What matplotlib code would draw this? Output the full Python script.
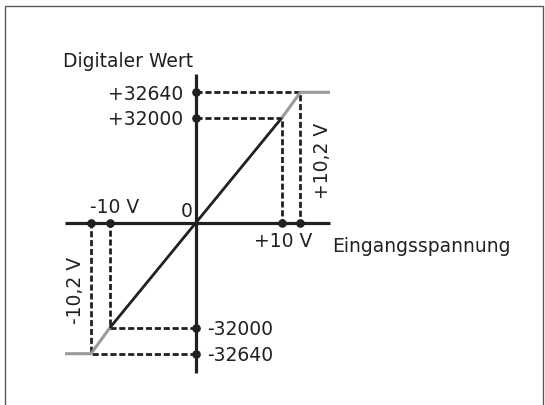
import numpy as np
import matplotlib
matplotlib.use("Agg")
import matplotlib.pyplot as plt
from matplotlib.patches import Rectangle

# Converter characteristic: input voltage (V) -> digital value
volts_nominal = [-10, 10]
volts_limit = [-10.2, 10.2]
digital_nominal = [-32000, 32000]
digital_limit = [-32640, 32640]

x_title = "Eingangsspannung"
y_title = "Digitaler Wert"
x_tick_labels = ["-10 V", "+10 V"]
y_tick_labels = ["-32000", "+32000"]
y_limit_labels = ["-32640", "+32640"]
x_limit_labels = ["-10,2 V", "+10,2 V"]

INK = "#231f20"
GREY = "#9a9a9a"

# Schematic scales: the overrange zone beyond the nominal range is stretched
KX, KY = 10.9, 12.24


def stretch(limit, k):
    def fwd(v):
        v = np.asarray(v, dtype=float)
        a = np.abs(v)
        return np.sign(v) * np.where(a <= limit, a, limit + (a - limit) * k)

    def inv(m):
        m = np.asarray(m, dtype=float)
        a = np.abs(m)
        return np.sign(m) * np.where(a <= limit, a, limit + (a - limit) / k)

    return fwd, inv


fx, ix = stretch(volts_nominal[1], KX)
fy, iy = stretch(digital_nominal[1], KY)

plt.rcParams["font.family"] = ["DejaVu Sans"]
plt.rcParams["lines.scale_dashes"] = False
FS = 13.5

fig = plt.figure(figsize=(5.45, 4.05), dpi=100)
ax = fig.add_axes([0, 0, 1, 1])
ax.set_xscale("function", functions=(fx, ix))
ax.set_yscale("function", functions=(fy, iy))

# pixel geometry of the canvas (origin at 195.7, 223 px)
px_x = 8.6            # px per schematic volt
px_y = 105.0 / 32000  # px per schematic count
ax.set_xlim(float(ix(-195.7 / px_x)), float(ix((545 - 195.7) / px_x)))
ax.set_ylim(float(iy(-(405 - 223) / px_y)), float(iy(223 / px_y)))
ax.axis("off")

# ends of the drawn coordinate axes
x_end_l = float(ix(-130.7 / px_x))
x_end_r = float(ix(134.3 / px_x))
y_end_b = float(iy(-150 / px_y))
y_end_t = float(iy(149 / px_y))

# dashed guide lines
dash = (0, (4.4, 2.0))
for v, d in zip(volts_nominal + volts_limit, digital_nominal + digital_limit):
    ax.plot([0, v, v], [d, d, 0], color=INK, lw=2.0, ls=dash,
            dash_capstyle="butt", zorder=1)

# coordinate axes
ax.plot([x_end_l, x_end_r], [0, 0], color=INK, lw=2.3, solid_capstyle="butt", zorder=2)
ax.plot([0, 0], [y_end_b, y_end_t], color=INK, lw=2.3, solid_capstyle="butt", zorder=2)

# transfer curve: saturation (grey) and nominal range (black)
ax.plot([x_end_l, volts_limit[0], volts_nominal[0]],
        [digital_limit[0], digital_limit[0], digital_nominal[0]],
        color=GREY, lw=2.2, solid_capstyle="butt", zorder=3)
ax.plot([volts_nominal[1], volts_limit[1], x_end_r],
        [digital_nominal[1], digital_limit[1], digital_limit[1]],
        color=GREY, lw=2.2, solid_capstyle="butt", zorder=3)
ax.plot(volts_nominal, digital_nominal, color=INK, lw=2.0,
        solid_capstyle="butt", zorder=4)

# marker dots on the axes
xs = volts_nominal + volts_limit
ys = digital_nominal + digital_limit
ax.plot(xs, [0] * len(xs), "o", color=INK, ms=5.2, zorder=5)
ax.plot([0] * len(ys), ys, "o", color=INK, ms=5.2, zorder=5)


def label(text, xy, dx, dy, **kw):
    ax.annotate(text, xy=xy, xytext=(dx * 0.72, -dy * 0.72),
                textcoords="offset points", fontsize=FS, color=INK, **kw)


# titles
label(y_title, (0, y_end_t), -133, -7.5, ha="left", va="baseline")
label(x_title, (x_end_r, 0), 2, 29.5, ha="left", va="baseline")

# digital value labels
for d, t in zip(digital_nominal, y_tick_labels):
    if d > 0:
        label(t, (0, d), -12.5, 7.3, ha="right", va="baseline")
    else:
        label(t, (0, d), 11.8, 7.0, ha="left", va="baseline")
for d, t in zip(digital_limit, y_limit_labels):
    if d > 0:
        label(t, (0, d), -12.5, 7.3, ha="right", va="baseline")
    else:
        label(t, (0, d), 11.8, 7.5, ha="left", va="baseline")

# voltage labels
label(x_tick_labels[0], (volts_nominal[0], 0), 5, -9.7, ha="center", va="baseline")
label(x_tick_labels[1], (volts_nominal[1], 0), 1.8, 24.5, ha="center", va="baseline")
label("0", (0, 0), -8.7, -6, ha="center", va="baseline")
label(x_limit_labels[1], (volts_limit[1], digital_nominal[1] / 2), 22.2, -9.5,
      ha="center", va="center", rotation=90)
label(x_limit_labels[0], (volts_limit[0], digital_nominal[0] / 2), -15, 14.5,
      ha="center", va="center", rotation=90)

# frame around the figure
fig.patches.append(Rectangle((5 / 545, -0.05), 538 / 545, (399 / 405) + 0.05,
                             transform=fig.transFigure, fill=False,
                             edgecolor="#555555", lw=0.95, clip_on=False))

fig.savefig("out.png", dpi=100)
